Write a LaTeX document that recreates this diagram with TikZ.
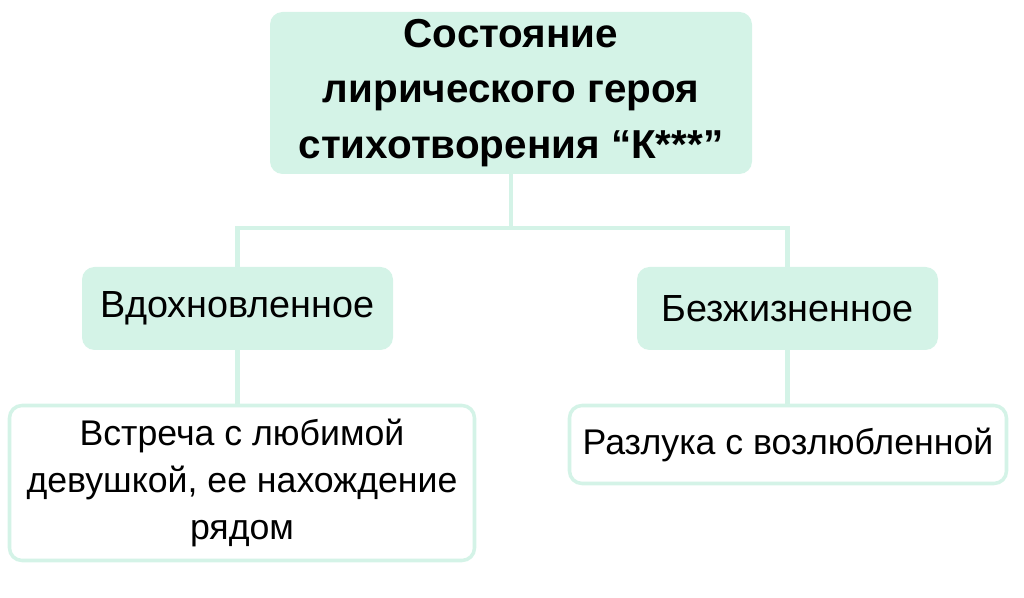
\documentclass[tikz,border=0pt]{standalone}
\usepackage{fontspec}
\setmainfont{Liberation Sans}
\usepackage{tikz}
\usetikzlibrary{positioning}

\definecolor{mint}{RGB}{212,243,231}

\tikzset{
	headbox/.style={fill=mint, rounded corners=0.25cm, align=center, inner sep=0pt},
	notebox/.style={draw=mint, line width=2pt, fill=white, rounded corners=0.25cm, align=center, inner sep=0pt},
	link/.style={draw=mint, line width=2.3pt}
}

\begin{document}
\begin{tikzpicture}
			\useasboundingbox (0,0) rectangle (20.48,-11.96);
			\node[headbox, minimum width=9.64cm, minimum height=3.24cm, font=\fontsize{23}{31.5}\selectfont\bfseries] (state) at (10.22,-1.86) {Состояние\\лирического героя\\стихотворения “К***”};
			\node[headbox, minimum width=6.22cm, minimum height=1.66cm, font=\fontsize{21.5}{25}\selectfont] (vdoh) at (4.75,-6.17) {Вдохновленное};
			\node[headbox, minimum width=6.02cm, minimum height=1.66cm, font=\fontsize{21.5}{25}\selectfont] (bezh) at (15.75,-6.17) {Безжизненное};
			\node[notebox, minimum width=9.3cm, minimum height=3.1cm, font=\fontsize{20.3}{26.5}\selectfont] (meet) at (4.84,-9.66) {Встреча с любимой\\девушкой, ее нахождение\\рядом};
			\node[notebox, minimum width=8.74cm, minimum height=1.56cm, font=\fontsize{20.3}{24}\selectfont] (part) at (15.76,-8.89) {Разлука с возлюбленной};
			\coordinate (fork) at (10.22,-4.56);
			\draw[link] (state) -- (fork);
			\draw[link] (vdoh.north) |- (fork) -| (bezh.north);
			\draw[link] (vdoh) -- (vdoh |- meet.north);
			\draw[link] (bezh) -- (bezh |- part.north);
		\end{tikzpicture}
\end{document}
